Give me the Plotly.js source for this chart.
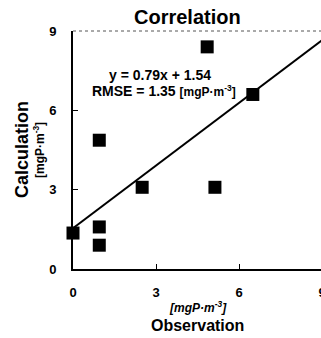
<!DOCTYPE html>
<html>
<head>
<meta charset="utf-8">
<script src="https://cdn.plot.ly/plotly-3.0.1.min.js"></script>
<style>html,body{margin:0;padding:0;background:#fff;overflow:hidden}</style>
</head>
<body>
<div id="chart"></div>
<script>
// Data
const observation = [0, 0.95, 0.95, 0.95, 2.5, 5.13, 6.5, 4.85];
const calculation = [1.36, 0.9, 1.59, 4.87, 3.09, 3.09, 6.6, 8.4];
const fitSlope = 0.79;
const fitIntercept = 1.54;
const axisTicks = [0, 3, 6, 9];
const axisRange = [0, 9];

const fitX = [axisRange[0], axisRange[1]];
const fitY = fitX.map(x => fitSlope * x + fitIntercept);

const FONT = '"Liberation Sans", Arial, sans-serif';

const traces = [
  {
    x: fitX, y: fitY, type: 'scatter', mode: 'lines',
    line: {color: '#000', width: 2}, hoverinfo: 'skip', cliponaxis: true
  },
  {
    x: observation, y: calculation, type: 'scatter', mode: 'markers',
    marker: {symbol: 'square', size: 13, color: '#000'}, cliponaxis: false
  }
];

const layout = {
  width: 322, height: 338,
  margin: {l: 73, r: 0, t: 31, b: 69},
  paper_bgcolor: '#fff', plot_bgcolor: '#fff',
  showlegend: false,
  font: {family: FONT, color: '#000'},
  xaxis: {
    range: axisRange, tickvals: axisTicks, ticktext: axisTicks.map(String),
    showgrid: false, zeroline: false, showline: true, linecolor: '#000', linewidth: 2,
    ticks: 'inside', ticklen: 5, tickwidth: 1, tickcolor: '#000',
    tickfont: {family: FONT, size: 13, color: '#000', weight: 'bold'},
    ticklabelstandoff: 10, ticklabeloverflow: 'allow', fixedrange: true
  },
  yaxis: {
    range: axisRange, tickvals: axisTicks, ticktext: axisTicks.map(String),
    showgrid: false, zeroline: false, showline: true, linecolor: '#000', linewidth: 2,
    ticks: 'inside', ticklen: 5, tickwidth: 1, tickcolor: '#000',
    tickfont: {family: FONT, size: 13, color: '#000', weight: 'bold'},
    ticklabelstandoff: 12, ticklabeloverflow: 'allow', fixedrange: true
  },
  shapes: [
    {type: 'line', xref: 'paper', yref: 'paper', x0: 0, x1: 1, y0: 1, y1: 1,
     line: {color: '#555', width: 1, dash: 'dot'}}
  ],
  annotations: [
    {text: '<b>Correlation</b>', xref: 'paper', yref: 'paper', x: 0.46, y: 1, yshift: 14,
     showarrow: false, xanchor: 'center', yanchor: 'middle', font: {size: 20, family: FONT}},
    {text: '<b>y = 0.79x + 1.54</b>', xref: 'x', yref: 'y', x: 3.15, y: 7.35,
     showarrow: false, xanchor: 'center', yanchor: 'middle', font: {size: 14, family: FONT}},
    {text: '<b>RMSE = 1.35 <span style="font-size:12px">[mgP·m<sup>-3</sup>]</span></b>', xref: 'x', yref: 'y', x: 3.3, y: 6.72,
     showarrow: false, xanchor: 'center', yanchor: 'middle', font: {size: 14, family: FONT}},
    {text: '<b><i>[mgP·m<sup>-3</sup>]</i></b>', xref: 'paper', yref: 'paper', x: 0.5, y: 0, yshift: -38,
     showarrow: false, xanchor: 'center', yanchor: 'middle', font: {size: 12, family: FONT}},
    {text: '<b>Observation</b>', xref: 'paper', yref: 'paper', x: 0.5, y: 0, yshift: -56,
     showarrow: false, xanchor: 'center', yanchor: 'middle', font: {size: 16, family: FONT}},
    {text: '<b>Calculation</b>', xref: 'paper', yref: 'paper', x: 0, y: 0.5, xshift: -51,
     textangle: -90, showarrow: false, xanchor: 'center', yanchor: 'middle', font: {size: 18, family: FONT}},
    {text: '<b>[mgP·m<sup>-3</sup>]</b>', xref: 'paper', yref: 'paper', x: 0, y: 0.5, xshift: -34,
     textangle: -90, showarrow: false, xanchor: 'center', yanchor: 'middle', font: {size: 12, family: FONT}}
  ]
};

Plotly.newPlot('chart', traces, layout, {displayModeBar: false, staticPlot: true});
</script>
</body>
</html>
